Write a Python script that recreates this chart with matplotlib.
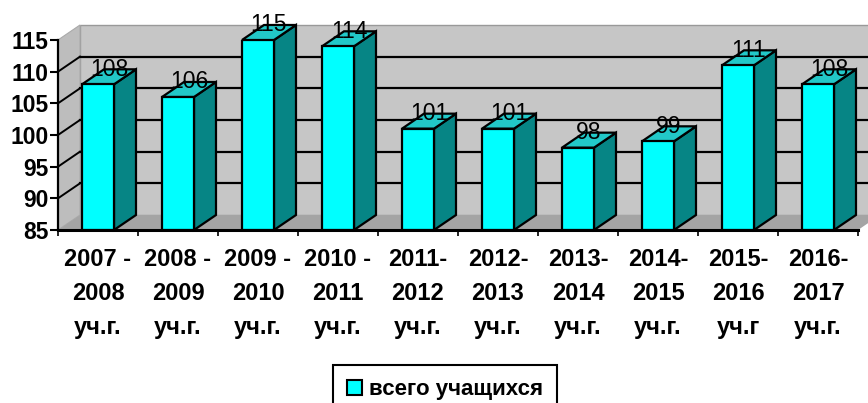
import matplotlib
matplotlib.use("Agg")
import matplotlib.pyplot as plt
from matplotlib.patches import Polygon, Patch
import numpy as np

plt.rcParams['font.family'] = ['Liberation Sans', 'DejaVu Sans']

categories = ["2007 -\n2008\nуч.г.", "2008 -\n2009\nуч.г.", "2009 -\n2010\nуч.г.",
              "2010 -\n2011\nуч.г.", "2011-\n2012\nуч.г.", "2012-\n2013\nуч.г.",
              "2013-\n2014\nуч.г.", "2014-\n2015\nуч.г.", "2015-\n2016\nуч.г",
              "2016-\n2017\nуч.г."]
students = [108, 106, 115, 114, 101, 101, 98, 99, 111, 108]
series_name = "всего учащихся"
y_ticks = [85, 90, 95, 100, 105, 110, 115]

ymin, ymax = 85, 115
dx, dy = 0.275, 2.37      # depth offset (x in categories, y in values)
hw = 0.2                  # half width of bar front

front_c = "#00ffff"
side_c = "#068585"
top_c = "#22c8c8"
wall_c = "#c6c6c6"
floor_c = "#a4a4a4"

fig = plt.figure(figsize=(8.68, 4.03), dpi=100)
ax = fig.add_axes([58 / 868, 173 / 403, 800 / 868, 190 / 403])
ax.set_xlim(-0.5, 9.5)
ax.set_ylim(ymin, ymax)
ax.patch.set_visible(False)

x0, x1 = -0.5, len(students) - 0.5

# walls and floor
ax.add_patch(Polygon([(x0 + dx, ymin + dy), (x1 + dx, ymin + dy), (x1 + dx, ymax + dy),
                      (x0 + dx, ymax + dy)], closed=True, fc=wall_c, ec="#999999",
                     lw=1, zorder=0.5, clip_on=False))
ax.add_patch(Polygon([(x0, ymin), (x0, ymax), (x0 + dx, ymax + dy), (x0 + dx, ymin + dy)],
                     closed=True, fc="#bdbdbd", ec="#aaaaaa", lw=0.8, zorder=0.6,
                     clip_on=False))
ax.add_patch(Polygon([(x0, ymin), (x1, ymin), (x1 + dx, ymin + dy), (x0 + dx, ymin + dy)],
                     closed=True, fc=floor_c, ec="none", zorder=0.7, clip_on=False))

# gridlines on back and left wall
for v in y_ticks[1:-1]:
    ax.plot([x0 + dx, x1 + dx], [v + dy, v + dy], color="black", lw=1.6, zorder=0.8,
            clip_on=False)
    ax.plot([x0, x0 + dx], [v, v + dy], color="black", lw=1.4, zorder=0.8, clip_on=False)

# bars
x = np.arange(len(students))
vals = np.array(students)
ax.bar(x, vals - ymin, bottom=ymin, width=2 * hw, color=front_c, edgecolor="black",
       linewidth=1.6, zorder=3)
for xi, v in zip(x, vals):
    ax.add_patch(Polygon([(xi + hw, ymin), (xi + hw, v), (xi + hw + dx, v + dy),
                          (xi + hw + dx, ymin + dy)], closed=True, fc=side_c, ec="black",
                         lw=1.6, zorder=2.5, clip_on=False))
    ax.add_patch(Polygon([(xi - hw, v), (xi + hw, v), (xi + hw + dx, v + dy),
                          (xi - hw + dx, v + dy)], closed=True, fc=top_c, ec="black",
                         lw=1.6, zorder=2.5, clip_on=False))
    ax.text(xi + dx / 2, v + dy, str(v), ha="center", va="center", fontsize=16.5,
            color="black", zorder=4, clip_on=False)

# axes styling
for s in ["top", "right"]:
    ax.spines[s].set_visible(False)
ax.spines["left"].set_linewidth(1.6)
ax.spines["bottom"].set_linewidth(2.2)
ax.spines["bottom"].set_zorder(3.5)
ax.set_yticks(y_ticks)
ax.set_yticklabels([str(t) for t in y_ticks], fontsize=16.5, fontweight="bold")
ax.tick_params(axis="y", length=6, width=1.5, pad=1)
ax.set_xticks(x)
ax.set_xticklabels(categories, fontsize=17, fontweight="bold", linespacing=1.6)
ax.tick_params(axis="x", which="major", length=0, pad=13)
ax.set_xticks(np.arange(-0.5, len(students)), minor=True)
ax.tick_params(axis="x", which="minor", length=4, width=1.2)

leg = fig.legend(handles=[Patch(facecolor=front_c, edgecolor="black", linewidth=1.5)],
                 labels=[series_name], loc="upper center",
                 bbox_to_anchor=(445 / 868, 1 - 365 / 403), fancybox=False,
                 edgecolor="black", framealpha=1, borderpad=0.65, handlelength=0.65,
                 handleheight=0.65, handletextpad=0.3, borderaxespad=0,
                 prop={"size": 16, "weight": "bold"})
leg.get_frame().set_linewidth(1.5)

fig.savefig("out.png", dpi=100)
